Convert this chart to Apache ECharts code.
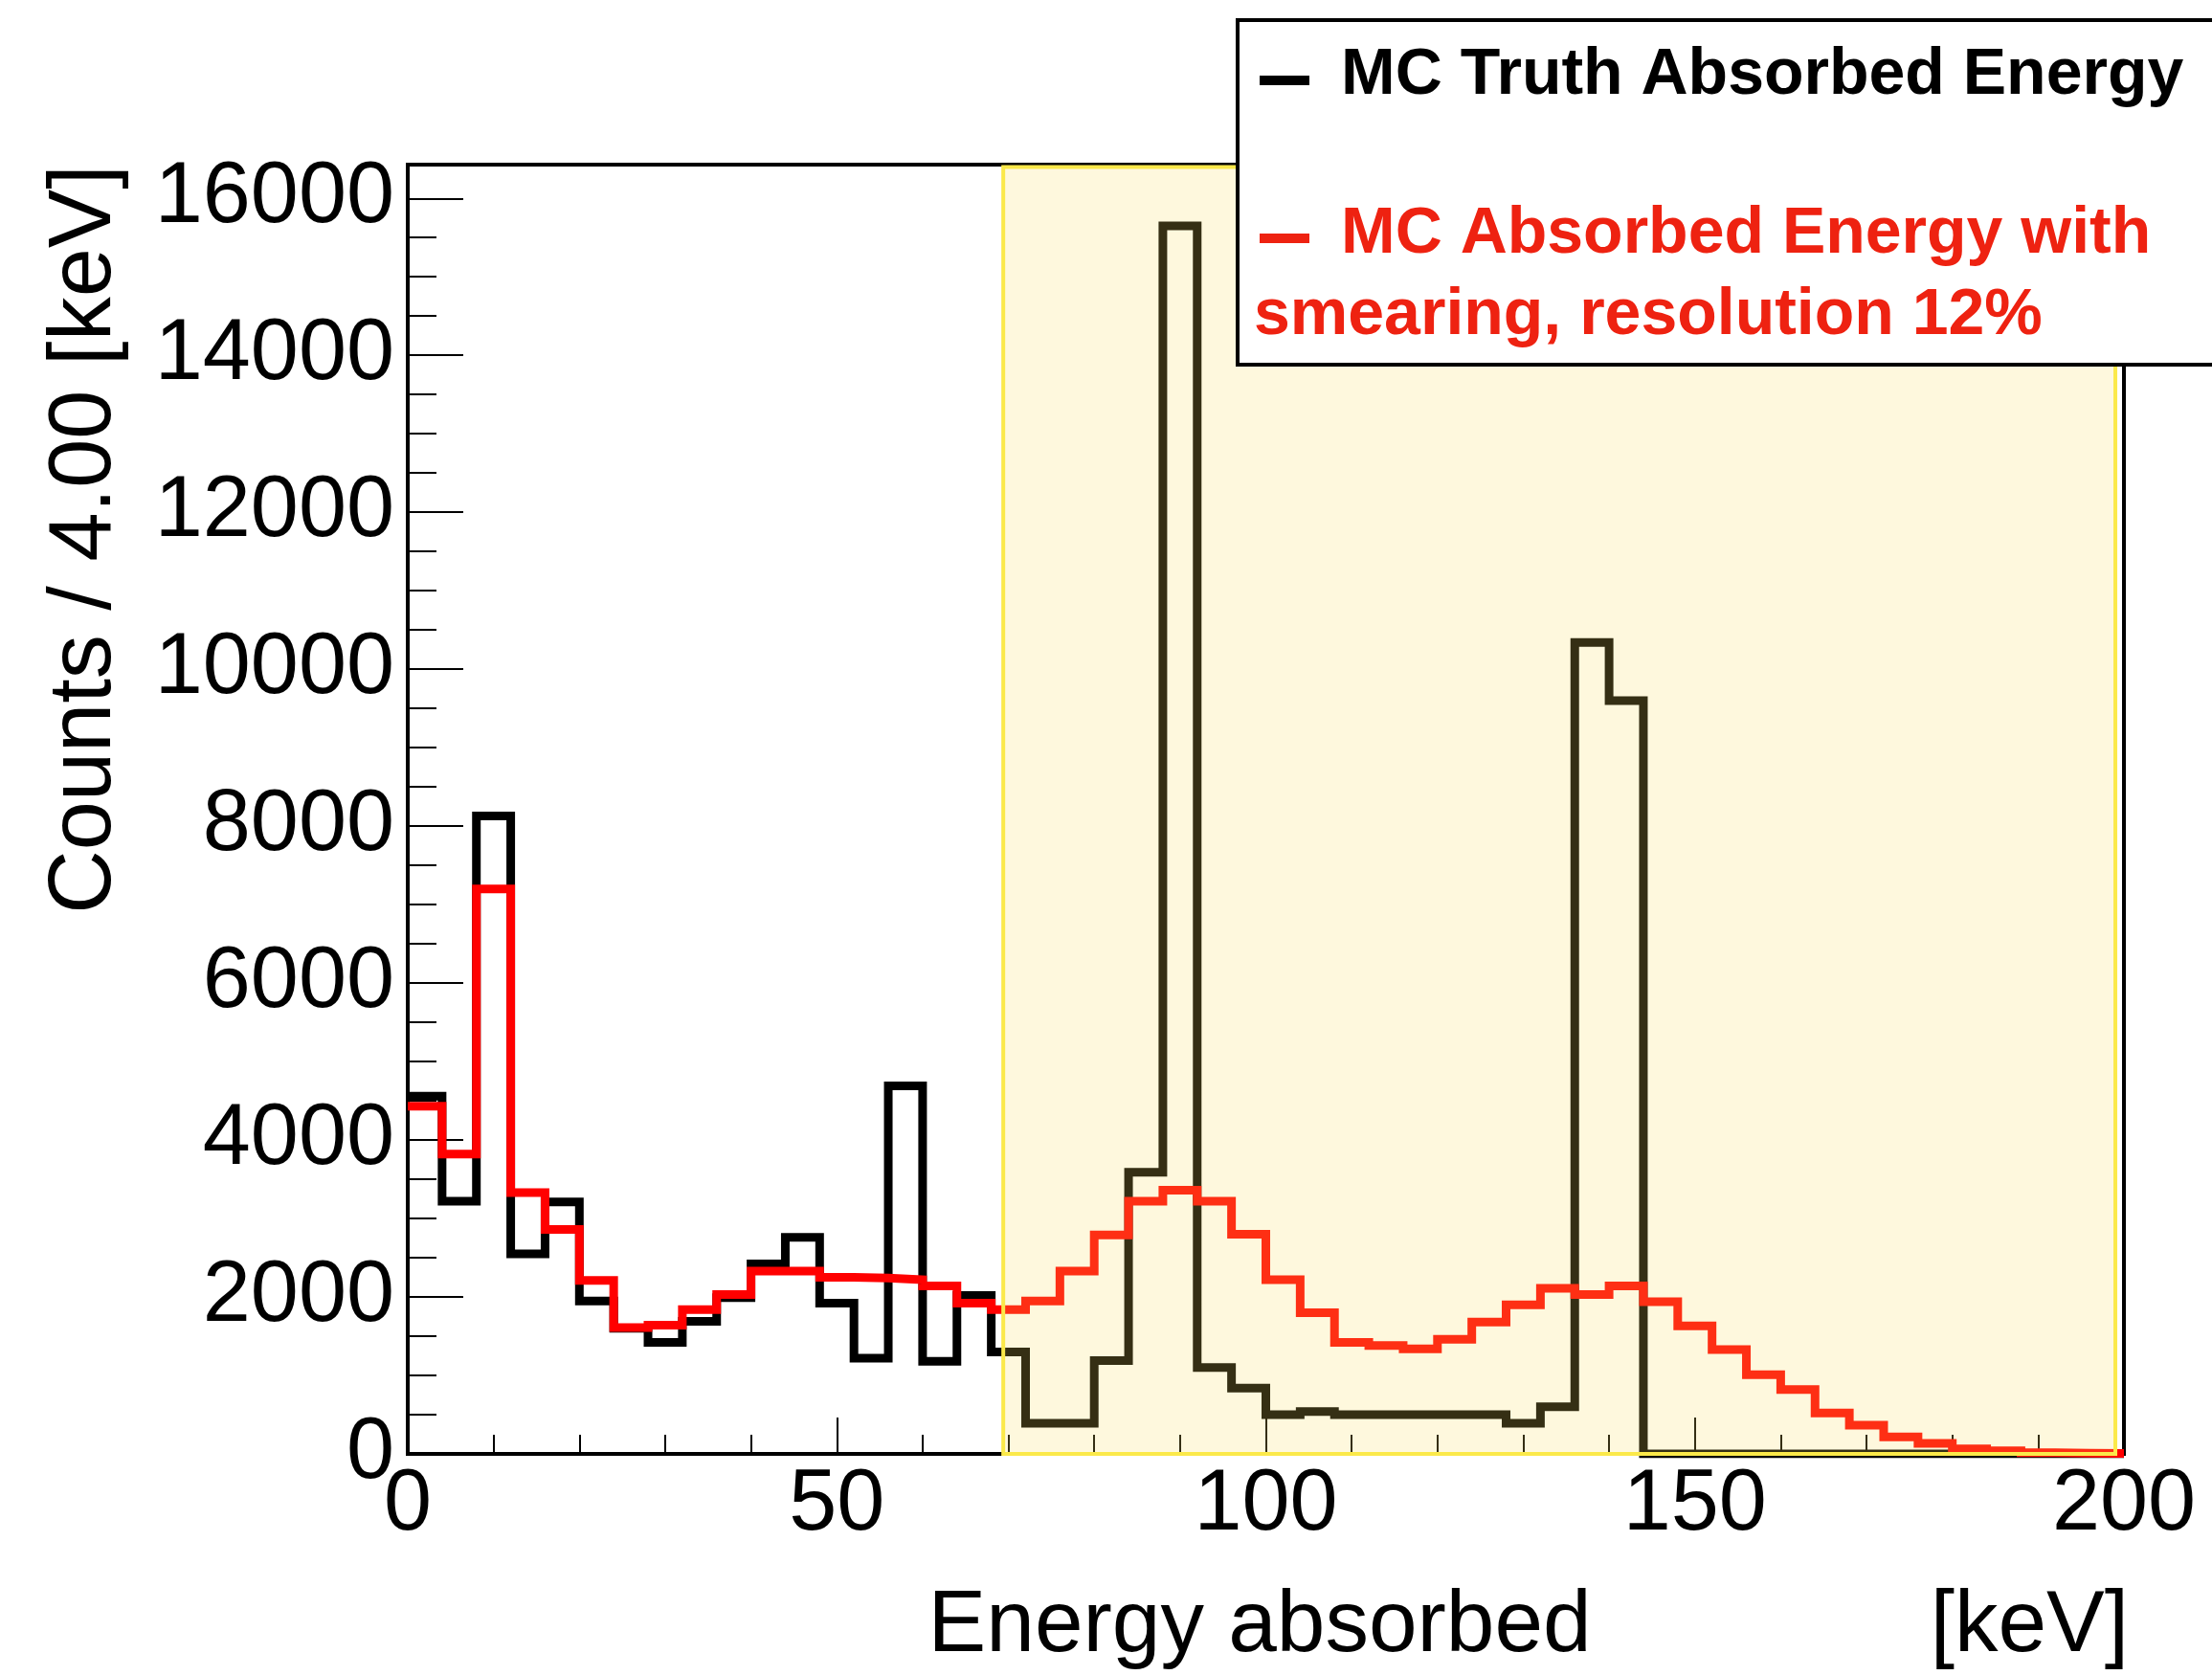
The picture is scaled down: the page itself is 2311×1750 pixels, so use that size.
<!DOCTYPE html>
<html>
<head>
<meta charset="utf-8">
<script src="https://cdn.jsdelivr.net/npm/echarts@6/dist/echarts.min.js"></script>
<style>
html,body{margin:0;padding:0;background:#ffffff;}
#chart{width:2311px;height:1750px;}
</style>
</head>
<body>
<div id="chart"></div>
<script>
// ---------------- data ----------------
const binWidth = 4; // keV per bin, 0..200 keV
const truthCounts = [4560, 3220, 8130, 2550, 3210, 1950, 1600, 1420, 1690, 1990,
                     2420, 2760, 1920, 1220, 4690, 1180, 2020, 1300, 390, 390,
                     1190, 3590, 15650, 1100, 840, 500, 540, 500, 500, 500,
                     500, 500, 390, 600, 10340, 9600, 0, 0, 0, 0,
                     0, 0, 0, 0, 0, 0, 0, 0, 0, 0];
const smearedCounts = [4430, 3820, 7200, 3330, 2860, 2210, 1610, 1640, 1840, 2030,
                       2330, 2330, 2250, 2240, 2220, 2140, 1920, 1840, 1950, 2330,
                       2790, 3220, 3360, 3220, 2800, 2220, 1800, 1420, 1380, 1340,
                       1460, 1680, 1900, 2110, 2030, 2140, 1940, 1630, 1330, 1010,
                       820, 520, 365, 215, 135, 65, 40, 15, 8, 5];
const xTickLabels = [0, 50, 100, 150, 200];
const yTickLabels = [0, 2000, 4000, 6000, 8000, 10000, 12000, 14000, 16000];
const xRange = [0, 200];
const yMax = 16430;
const highlightX = [69.4, 199];
const highlightY = [0, 16400];
const legendTexts = ['MC Truth Absorbed Energy', 'MC Absorbed Energy with', 'smearing, resolution 12%'];

// ---------------- helpers ----------------
function toSteps(counts) {
  const pts = counts.map((v, i) => [i * binWidth, v]);
  pts.push([counts.length * binWidth, counts[counts.length - 1]]);
  return pts;
}
const FONT = "'Liberation Sans', Arial, Helvetica, sans-serif";

const chart = echarts.init(document.getElementById('chart'), null, {renderer: 'canvas'});

const option = {
  animation: false,
  backgroundColor: '#ffffff',
  grid: {
    left: 426, right: 92, top: 172, bottom: 231,
    show: true, borderColor: '#000', borderWidth: 4, backgroundColor: 'transparent',
    containLabel: false, outerBoundsMode: 'none'
  },
  xAxis: {
    type: 'value', min: xRange[0], max: xRange[1], interval: 50,
    name: 'Energy absorbed' + '\u00a0'.repeat(14) + '[keV]',
    nameLocation: 'end', nameGap: 5,
    nameTextStyle: {fontFamily: FONT, fontSize: 91, color: '#000', align: 'right', verticalAlign: 'top', padding: [135, 0, 0, 0]},
    axisLine: {show: true, onZero: false, lineStyle: {color: '#000', width: 4}},
    axisTick: {show: true, inside: true, length: 38, lineStyle: {color: '#000', width: 2}},
    minorTick: {show: true, splitNumber: 5, length: 20, lineStyle: {color: '#000', width: 2}},
    axisLabel: {show: true, fontFamily: FONT, fontSize: 90, color: '#000', margin: 9,
      formatter: v => xTickLabels.includes(v) ? String(v) : ''},
    splitLine: {show: false}
  },
  yAxis: [{
    type: 'value', min: 0, max: yMax, interval: 2000, position: 'left',
    name: 'Counts / 4.00 [keV]', nameLocation: 'middle', nameGap: 290, nameRotate: 90,
    nameTextStyle: {fontFamily: FONT, fontSize: 92, color: '#000', padding: [0, 0, 0, 564]},
    axisLine: {show: true, onZero: false, lineStyle: {color: '#000', width: 4}},
    axisTick: {show: true, inside: true, length: 58, lineStyle: {color: '#000', width: 2}},
    axisLabel: {show: true, fontFamily: FONT, fontSize: 90, color: '#000', margin: 14,
      formatter: v => yTickLabels.includes(v) ? String(v) : ''},
    splitLine: {show: false}
  }, {
    type: 'value', min: 0, max: yMax, interval: 500, position: 'left',
    axisLine: {show: false},
    axisTick: {show: true, inside: true, length: 30, lineStyle: {color: '#000', width: 2}},
    axisLabel: {show: false},
    splitLine: {show: false}
  }],
  series: [{
    name: legendTexts[0], type: 'line', step: 'end', data: toSteps(truthCounts),
    showSymbol: false, symbol: 'none', z: 3, silent: true,
    lineStyle: {color: '#000000', width: 9, join: 'miter', cap: 'butt'},
    emphasis: {disabled: true}
  }, {
    name: legendTexts[1] + ' ' + legendTexts[2], type: 'line', step: 'end', data: toSteps(smearedCounts),
    showSymbol: false, symbol: 'none', z: 4, silent: true,
    lineStyle: {color: '#ff0000', width: 9, join: 'miter', cap: 'butt'},
    emphasis: {disabled: true}
  }, {
    name: 'region', type: 'line', data: [], z: 10, silent: true,
    markArea: {
      silent: true, z: 10,
      label: {show: false},
      itemStyle: {color: 'rgba(252,224,95,0.21)', borderColor: '#fbe94a', borderWidth: 4},
      emphasis: {disabled: true},
      data: [[{xAxis: highlightX[0], yAxis: highlightY[0]}, {xAxis: highlightX[1], yAxis: highlightY[1]}]]
    }
  }],
  graphic: [{
    type: 'group', z: 100, silent: true,
    children: [
      {type: 'rect', shape: {x: 1293, y: 21, width: 1200, height: 360}, style: {fill: '#ffffff', stroke: '#000', lineWidth: 4}, z: 100},
      {type: 'line', shape: {x1: 1316, y1: 84, x2: 1368, y2: 84}, style: {stroke: '#000', lineWidth: 10}, z: 101},
      {type: 'text', x: 1401, y: 79, style: {text: legendTexts[0], fill: '#000', font: 'bold 68px ' + FONT, align: 'left', verticalAlign: 'middle'}, z: 101},
      {type: 'line', shape: {x1: 1316, y1: 249, x2: 1368, y2: 249}, style: {stroke: '#ee2211', lineWidth: 10}, z: 101},
      {type: 'text', x: 1401, y: 245, style: {text: legendTexts[1], fill: '#ee2211', font: 'bold 68px ' + FONT, align: 'left', verticalAlign: 'middle'}, z: 101},
      {type: 'text', x: 1310, y: 330, style: {text: legendTexts[2], fill: '#ee2211', font: 'bold 68px ' + FONT, align: 'left', verticalAlign: 'middle'}, z: 101}
    ]
  }]
};
chart.setOption(option);
</script>
</body>
</html>
